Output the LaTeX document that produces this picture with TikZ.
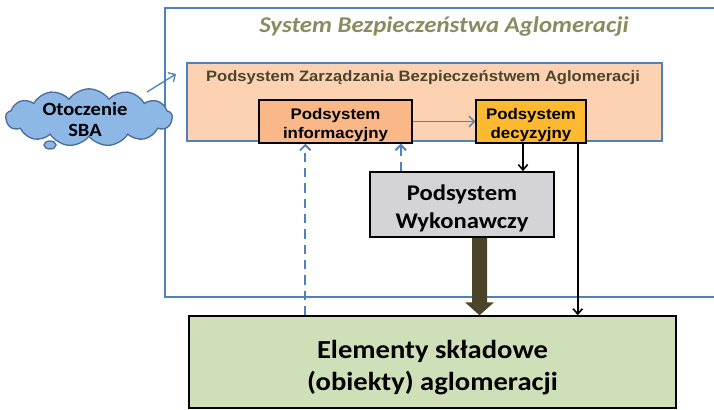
\documentclass[tikz,border=0pt]{standalone}
\usepackage{fontspec}
\setmainfont{Carlito}[FakeStretch=1.1]
\newfontfamily\arial{Liberation Sans}[FakeStretch=1.1]
\usetikzlibrary{shapes.symbols,shapes.geometric,arrows.meta,calc}
\definecolor{sysblue}{HTML}{4F81BD}
\definecolor{olivetitle}{HTML}{8C8A5E}
\definecolor{darkolive}{HTML}{4A452A}
\definecolor{peach}{HTML}{FCD2B2}
\definecolor{infofill}{HTML}{FAB888}
\definecolor{decfill}{HTML}{FDBA30}
\definecolor{wykfill}{HTML}{D4D4D6}
\definecolor{elfill}{HTML}{CFE0B9}
\definecolor{cloudfill}{HTML}{8DB8E6}
\definecolor{cloudline}{HTML}{4A6E9E}
\tikzset{
  smallbox/.style={draw=black, line width=1.1pt, minimum height=32.25pt, inner sep=0pt},
  smalltext/.style={align=center, font=\arial\bfseries\fontsize{11.5}{14.5}\selectfont, inner sep=0pt},
  bluearrow/.style={draw=sysblue, line width=1pt, -{Straight Barb[length=4pt,width=8pt]}},
  bluedash/.style={draw=sysblue, line width=1.4pt, dash pattern=on 7pt off 4.5pt, -{Straight Barb[length=4pt,width=8pt]}},
  blackarrow/.style={draw=black, line width=1.2pt, -{Straight Barb[length=4pt,width=7pt]}},
}
\begin{document}
\begin{tikzpicture}[x=0.75pt,y=-0.75pt]
\useasboundingbox (0,0) rectangle (714,410);
% outer system frame (right edge outside picture)
\draw[sysblue, line width=1.2pt] (714,8) -- (165,8) -- (165,297) -- (714,297);
\node (title) at (444,26) {\fontsize{16.9}{20}\selectfont\bfseries\itshape\color{olivetitle}System Bezpieczeństwa Aglomeracji};
% management subsystem
\node[draw=sysblue, fill=peach, line width=1.2pt, minimum width=356.25pt, minimum height=58.5pt, inner sep=0pt] (pz) at (424.5,102) {};
\node[font=\arial\bfseries\fontsize{11.3}{13}\selectfont, text=darkolive] (pzt) at (423,78) {Podsystem Zarządzania Bezpieczeństwem Aglomeracji};
\node[smallbox, fill=infofill, minimum width=114.75pt] (info) at (335.5,121.5) {};
\node[smalltext] (infot) at ([yshift=-2.5pt]info.center) {Podsystem\\informacyjny};
\node[smallbox, fill=decfill, minimum width=82.5pt] (dec) at (531,121.5) {};
\node[smalltext] (dect) at ([yshift=-2.5pt]dec.center) {Podsystem\\decyzyjny};
\node[draw=black, line width=1.3pt, fill=wykfill, minimum width=138pt, minimum height=48.75pt, inner sep=0pt] (wyk) at (462,204.5) {};
\node[align=center, font=\fontsize{16.8}{21}\selectfont\bfseries, inner sep=0pt] (wykt) at ([yshift=-2.8pt]wyk.center) {Podsystem\\Wykonawczy};
\node[draw=black, line width=1.1pt, fill=elfill, minimum width=365.25pt, minimum height=69pt, inner sep=0pt] (el) at (432.5,362) {};
\node[align=center, font=\fontsize{19.5}{24}\selectfont\bfseries, inner sep=0pt] (elt) at ([yshift=-4.5pt]el.center) {Elementy składowe\\(obiekty) aglomeracji};
% cloud
\node[cloud, cloud puffs=13, cloud puff arc=110, aspect=2.9, draw=cloudline, fill=cloudfill, line width=1pt,
  minimum width=125pt, minimum height=43pt, inner sep=0pt] (cloud) at (89,117.5) {};
\node[align=center, font=\fontsize{14}{16}\selectfont\bfseries, inner sep=0pt] (cloudt) at ([xshift=-3pt,yshift=-1.5pt]cloud.center) {Otoczenie\\SBA};
\node[ellipse, draw=cloudline, fill=cloudfill, line width=1pt, minimum width=9pt, minimum height=6pt, inner sep=0pt] (bub) at (50,145) {};
% connectors
\coordinate (cs) at (147,92);
\coordinate (ct) at (176,74);
\draw[bluearrow] (cs) -- (ct);
\draw[bluearrow] (info.east) -- (dec.west);
\draw[blackarrow] ([xshift=-6pt]dec.south) -- ([xshift=-6pt]dec.south |- wyk.north);
\draw[blackarrow] ([xshift=-6.75pt]dec.south east) -- ([xshift=-6.75pt]dec.south east |- el.north);
\draw[bluedash] ([xshift=-9pt]info.south east |- wyk.north) -- ([xshift=-9pt]info.south east);
\draw[bluedash] ([xshift=35.25pt]info.south west |- el.north) -- ([xshift=35.25pt]info.south west);
% thick arrow
\coordinate (ta) at (479.5,0);
\fill[darkolive] ($(ta |- wyk.south)+(-7.5,0)$) -- ($(ta |- wyk.south)+(7.5,0)$)
  -- ($(ta |- el.north)+(7.5,-13)$) -- ($(ta |- el.north)+(14.5,-13)$) -- (ta |- el.north)
  -- ($(ta |- el.north)+(-14.5,-13)$) -- ($(ta |- el.north)+(-7.5,-13)$) -- cycle;
\end{tikzpicture}
\end{document}
